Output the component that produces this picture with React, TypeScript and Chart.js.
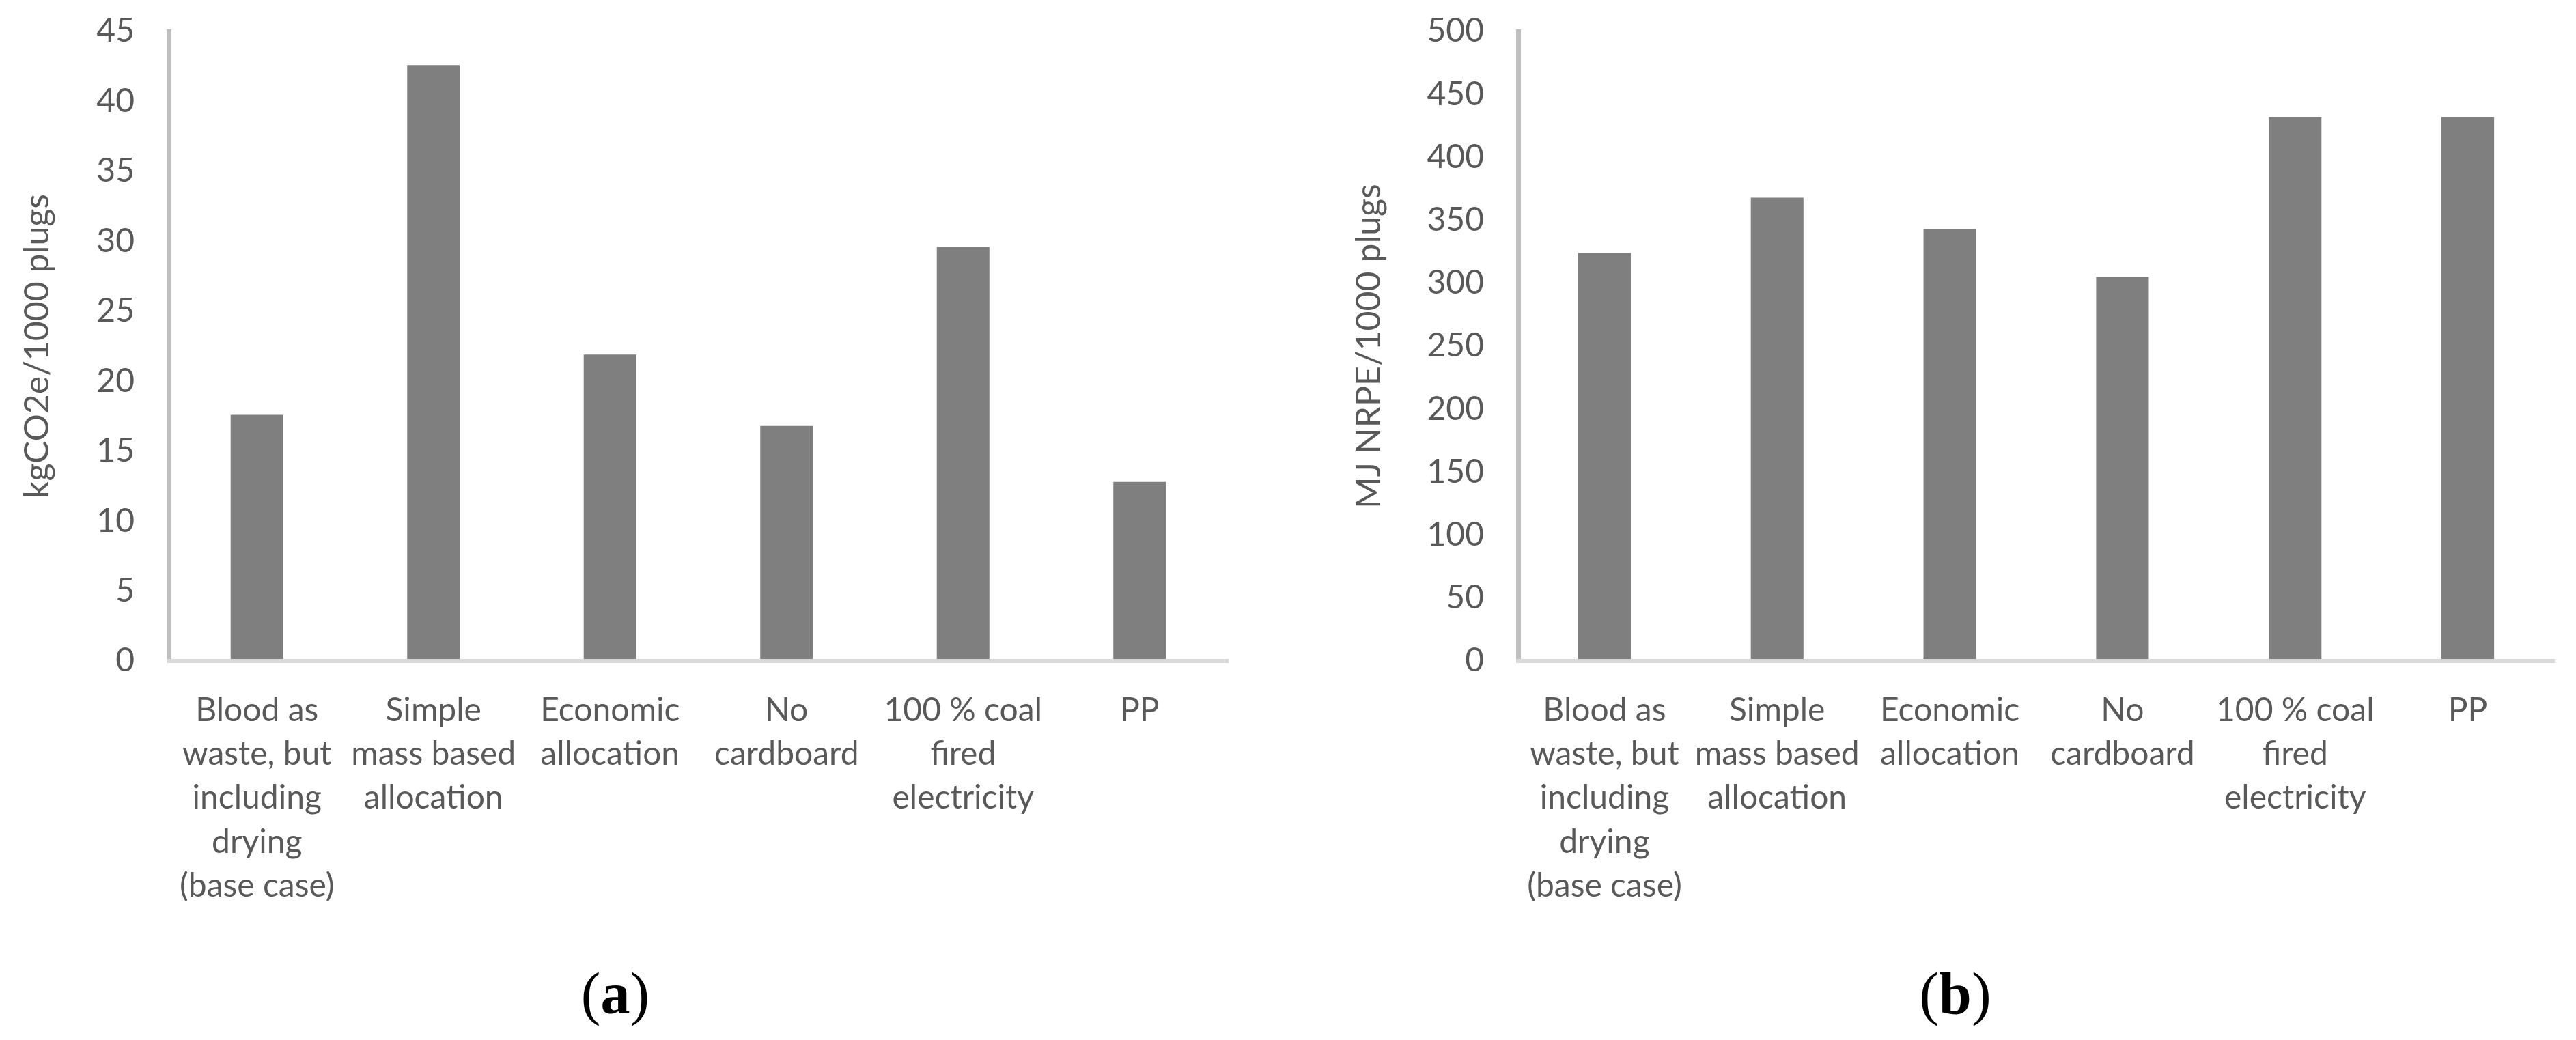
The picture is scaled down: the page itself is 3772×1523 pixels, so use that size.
import React, { useEffect, useRef } from 'react';
import { Chart, registerables } from 'chart.js';

Chart.register(...registerables);

const categories: string[][] = [
  ['Blood as', 'waste, but', 'including', 'drying', '(base case)'],
  ['Simple', 'mass based', 'allocation'],
  ['Economic', 'allocation'],
  ['No', 'cardboard'],
  ['100 % coal', 'fired', 'electricity'],
  ['PP'],
];

const co2Values = [17.6, 42.6, 21.9, 16.8, 29.6, 12.8];
const energyValues = [324, 368, 343, 305, 432, 432];

const co2AxisMax = 45;
const co2AxisStep = 5;
const energyAxisMax = 500;
const energyAxisStep = 50;

const co2Title = 'kgCO2e/1000 plugs';
const energyTitle = 'MJ NRPE/1000 plugs';

const FONT = 'Lato';
const TEXT = '#595959';
const BAR = '#7f7f7f';

type PanelProps = {
  values: number[];
  yMax: number;
  yStep: number;
  yTitle: string;
  width: number;
  height: number;
  yAxisWidth: number;
  padRight: number;
  titleOffset: number;
  barPct: number;
};

function Panel(p: PanelProps) {
  const ref = useRef<HTMLCanvasElement | null>(null);
  useEffect(() => {
    if (!ref.current) return;
    const plotBottom = 968;
    const chart = new Chart(ref.current, {
      type: 'bar',
      data: {
        labels: categories,
        datasets: [
          {
            data: p.values,
            backgroundColor: BAR,
            borderWidth: 0,
            categoryPercentage: 1,
            barPercentage: p.barPct,
          },
        ],
      },
      options: {
        animation: false,
        responsive: false,
        devicePixelRatio: 1,
        layout: { padding: { top: 46, right: p.padRight, left: 0, bottom: 0 } },
        plugins: { legend: { display: false }, tooltip: { enabled: false } },
        scales: {
          x: {
            grid: { display: false, drawTicks: false },
            border: { display: true, color: '#d9d9d9', width: 6, z: 1 },
            ticks: {
              color: TEXT,
              font: { family: FONT, size: 48, lineHeight: 1.34 },
              padding: 40,
              maxRotation: 0,
              minRotation: 0,
              autoSkip: false,
            },
            afterFit: (s: any) => {
              s.height = p.height - plotBottom;
            },
          },
          y: {
            min: 0,
            max: p.yMax,
            grid: { display: false, drawTicks: false },
            border: { display: true, color: '#bfbfbf', width: 7 },
            ticks: {
              stepSize: p.yStep,
              color: TEXT,
              font: { family: FONT, size: 48 },
              padding: 50,
            },
            title: {
              display: true,
              text: p.yTitle,
              color: TEXT,
              font: { family: FONT, size: 50, lineHeight: 1.2 },
              padding: { top: p.titleOffset - 30, bottom: 0 },
            },
            afterFit: (s: any) => {
              s.width = p.yAxisWidth;
              s.paddingTop = 0;
              s.paddingBottom = 0;
            },
          },
        },
      },
    });
    return () => chart.destroy();
  }, []);
  return (
    <canvas
      ref={ref}
      width={p.width}
      height={p.height}
      style={{ width: p.width + 'px', height: p.height + 'px', display: 'block' }}
    />
  );
}

const captionStyle = (cx: number): React.CSSProperties => ({
  position: 'absolute',
  left: cx - 200 + 'px',
  width: '400px',
  top: '1405px',
  textAlign: 'center',
  fontFamily: '"Liberation Serif", "Times New Roman", serif',
  fontSize: '86px',
  lineHeight: '100px',
  color: '#000',
});

export default function App() {
  return (
    <div
      style={{
        position: 'absolute',
        left: 0,
        top: 0,
        width: '3772px',
        height: '1523px',
        background: '#fff',
        overflow: 'hidden',
      }}
    >
      <div style={{ position: 'absolute', left: 0, top: 0 }}>
        <Panel
          values={co2Values}
          yMax={co2AxisMax}
          yStep={co2AxisStep}
          yTitle={co2Title}
          width={1900}
          height={1400}
          yAxisWidth={247}
          padRight={102}
          titleOffset={55}
          barPct={0.298}
        />
      </div>
      <div style={{ position: 'absolute', left: '1900px', top: 0 }}>
        <Panel
          values={energyValues}
          yMax={energyAxisMax}
          yStep={energyAxisStep}
          yTitle={energyTitle}
          width={1872}
          height={1400}
          yAxisWidth={323}
          padRight={32}
          titleOffset={105}
          barPct={0.305}
        />
      </div>
      <div style={captionStyle(901)}>
        (<b>a</b>)
      </div>
      <div style={captionStyle(2863)}>
        (<b>b</b>)
      </div>
    </div>
  );
}
